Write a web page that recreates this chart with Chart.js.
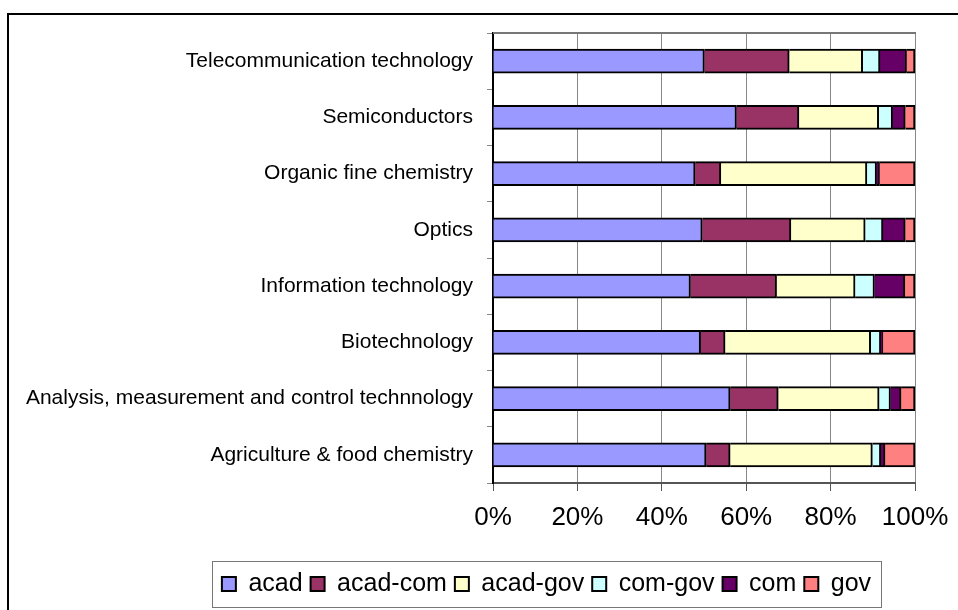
<!DOCTYPE html>
<html>
<head>
<meta charset="utf-8">
<title>Co-ownership by technology field</title>
<script src="https://cdn.jsdelivr.net/npm/chart.js@4.4.1/dist/chart.umd.min.js"></script>
<style>
  html, body { margin: 0; padding: 0; background: #fff; }
  #wrap { width: 958px; height: 610px; }
</style>
</head>
<body>
<div id="wrap"><canvas id="shareChart" width="958" height="610"></canvas></div>
<script>
// categories, top to bottom
const fields = [
  "Telecommunication technology",
  "Semiconductors",
  "Organic fine chemistry",
  "Optics",
  "Information technology",
  "Biotechnology",
  "Analysis, measurement and control technnology",
  "Agriculture & food chemistry"
];

// shares in %
const acad    = [50.1, 57.7, 47.9, 49.6, 46.8, 49.2, 56.2, 50.5];
const acadCom = [20.1, 14.8,  6.1, 21.0, 20.4,  5.8, 11.4,  5.7];
const acadGov = [17.4, 18.9, 34.6, 17.6, 18.6, 34.5, 23.9, 33.7];
const comGov  = [ 4.1,  3.3,  2.3,  4.2,  4.6,  2.4,  2.7,  2.0];
const com     = [ 6.3,  3.0,  0.7,  5.3,  7.2,  0.5,  2.5,  1.0];
const gov     = [ 2.0,  2.3,  8.4,  2.3,  2.4,  7.6,  3.3,  7.1];

const seriesNames = ["acad", "acad-com", "acad-gov", "com-gov", "com", "gov"];
const seriesData = [acad, acadCom, acadGov, comGov, com, gov];
const seriesColors = ["#9999FF", "#993366", "#FFFFCC", "#CCFFFF", "#660066", "#FF8080"];

const xTicks = [0, 20, 40, 60, 80, 100];

// outer frame, plot top edge and legend box; legend moved to its place
const framePlugin = {
  id: "framePlugin",
  afterLayout(chart) {
    const lg = chart.legend;
    const h = lg.bottom - lg.top;
    lg.left = 212;
    lg.right = 881;
    lg.width = 669;
    lg.top = 563.5;
    lg.bottom = lg.top + h;
  },
  beforeDraw(chart) {
    const ctx = chart.ctx;
    ctx.save();
    ctx.strokeStyle = "#000";
    ctx.lineWidth = 2;
    ctx.beginPath();
    ctx.moveTo(8, 610);
    ctx.lineTo(8, 14);
    ctx.lineTo(958, 14);
    ctx.stroke();
    ctx.restore();
  },
  afterDraw(chart) {
    const ctx = chart.ctx;
    const a = chart.chartArea;
    ctx.save();
    ctx.strokeStyle = "#777";
    ctx.lineWidth = 2;
    ctx.beginPath();
    ctx.moveTo(a.left, a.top);
    ctx.lineTo(a.right + 1, a.top);
    ctx.stroke();
    ctx.lineWidth = 1;
    ctx.strokeRect(212.5, 561.5, 669, 46);
    ctx.restore();
  }
};

new Chart(document.getElementById("shareChart"), {
  type: "bar",
  data: {
    labels: fields,
    datasets: seriesNames.map((name, i) => ({
      label: name,
      data: seriesData[i],
      backgroundColor: seriesColors[i],
      borderColor: "#000",
      borderWidth: 2,
      barThickness: 24
    }))
  },
  options: {
    indexAxis: "y",
    responsive: false,
    animation: false,
    layout: { padding: { left: 0, right: 43, top: 33, bottom: 0 } },
    scales: {
      x: {
        stacked: true,
        min: 0,
        max: 100,
        afterBuildTicks(scale) { scale.ticks = xTicks.map(v => ({ value: v })); },
        afterFit(scale) {
          scale.height = 84;
          scale.paddingLeft = 0;
          scale.paddingRight = 0;
        },
        ticks: {
          color: "#000",
          padding: 11,
          font: { family: "Liberation Sans", size: 26 },
          callback: v => v + "%"
        },
        grid: { color: "#888", lineWidth: 1, tickLength: 8, tickColor: "#555" },
        border: { color: "#555", width: 2 }
      },
      y: {
        stacked: true,
        afterFit(scale) { scale.width = 493; },
        ticks: {
          color: "#000",
          padding: 14,
          font: { family: "Liberation Sans", size: 21 }
        },
        grid: { drawOnChartArea: false, offset: true, tickLength: 6, tickColor: "#888" },
        border: { color: "#000", width: 2 }
      }
    },
    plugins: {
      legend: {
        position: "bottom",
        labels: {
          color: "#000",
          boxWidth: 14,
          boxHeight: 14,
          padding: 8,
          font: { family: "Liberation Sans", size: 25 }
        }
      },
      tooltip: { enabled: false }
    }
  },
  plugins: [framePlugin]
});
</script>
</body>
</html>
